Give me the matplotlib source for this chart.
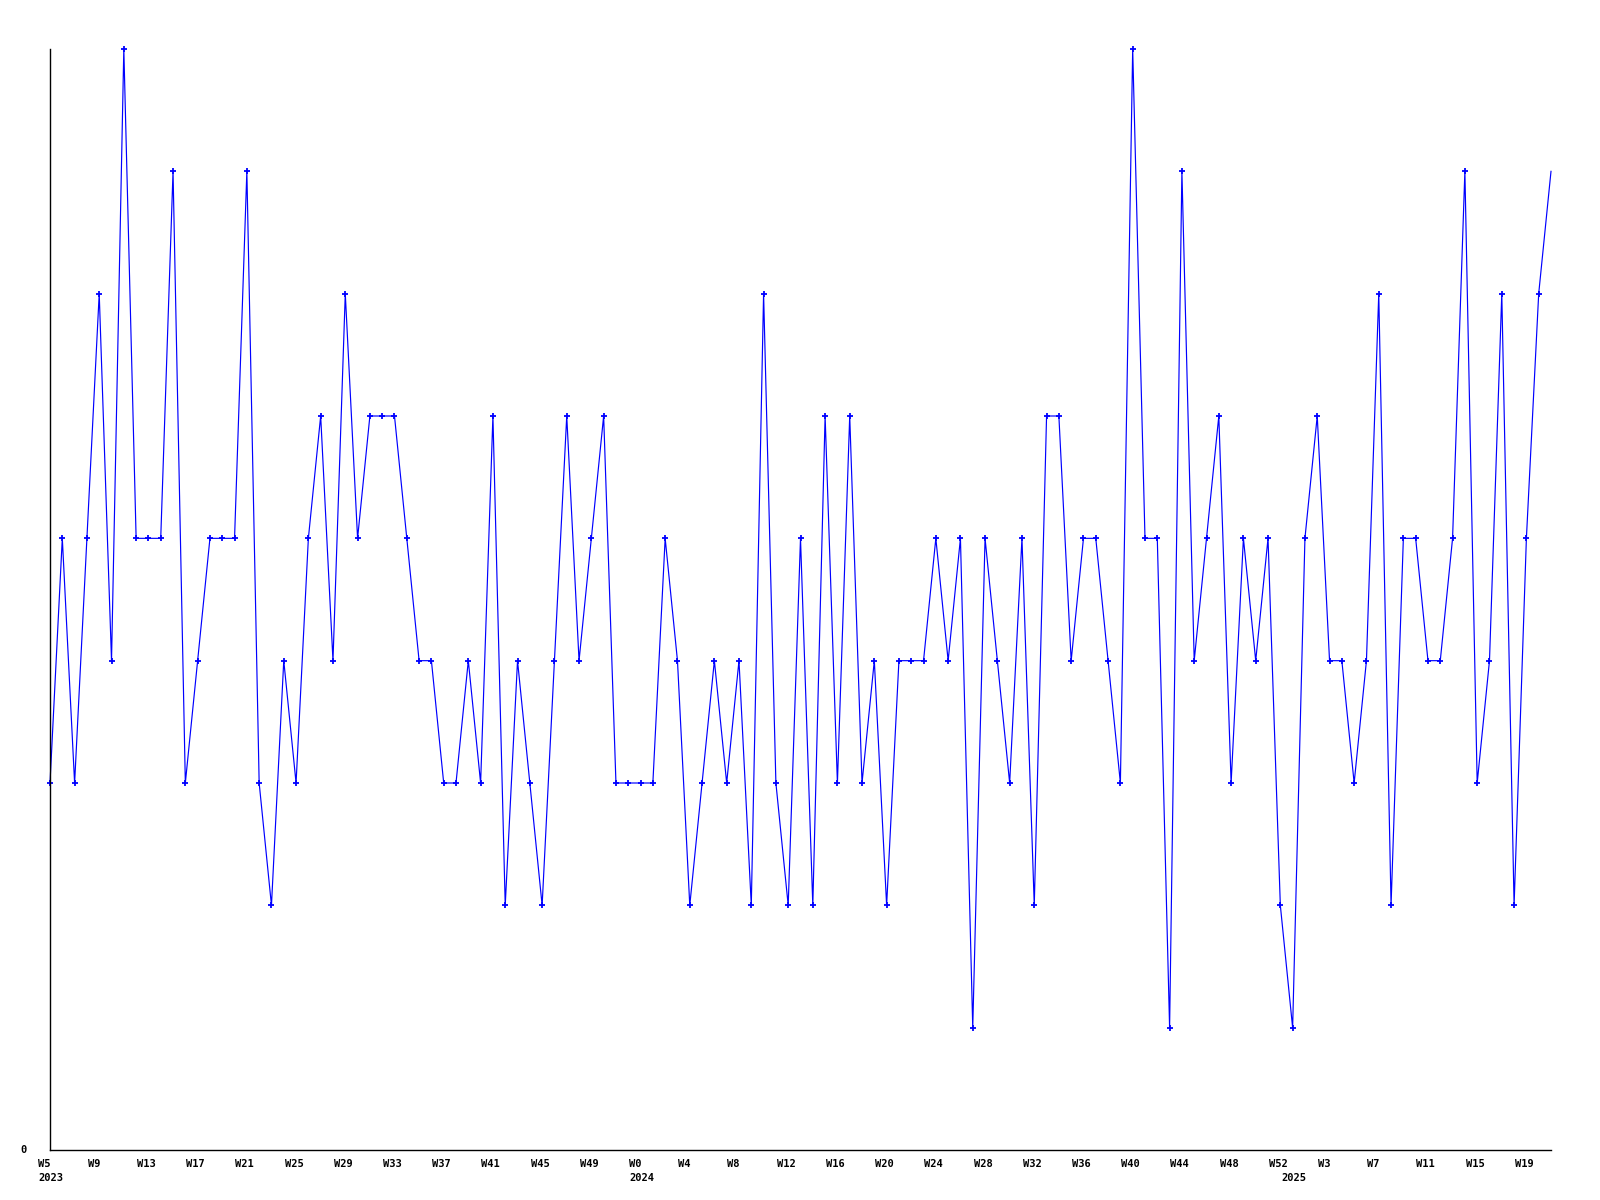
import matplotlib
matplotlib.use("Agg")
import matplotlib.pyplot as plt

# --- data ---------------------------------------------------------------
weeks_2023 = list(range(5, 53))      # W5 .. W52
weeks_2024 = list(range(0, 53))      # W0 .. W52
weeks_2025 = list(range(0, 22))      # W0 .. W21
years = ["2023", "2024", "2025"]

values = [
    3, 5, 3, 5, 7, 4, 9, 5, 5, 5, 8, 3, 4, 5, 5, 5, 8, 3, 2, 4,
    3, 5, 6, 4, 7, 5, 6, 6, 6, 5, 4, 4, 3, 3, 4, 3, 6, 2, 4, 3,
    2, 4, 6, 4, 5, 6, 3, 3,
    3, 3, 5, 4, 2, 3, 4, 3, 4, 2, 7, 3, 2, 5, 2, 6, 3, 6, 3, 4,
    2, 4, 4, 4, 5, 4, 5, 1, 5, 4, 3, 5, 2, 6, 6, 4, 5, 5, 4, 3,
    9, 5, 5, 1, 8, 4, 5, 6, 3, 5, 4, 5, 2,
    1, 5, 6, 4, 4, 3, 4, 7, 2, 5, 5, 4, 4, 5, 8, 3, 4, 7, 2, 5,
    7, 8,
]

week_labels = ["W%d" % w for w in weeks_2023 + weeks_2024 + weeks_2025]
year_starts = [0, len(weeks_2023), len(weeks_2023) + len(weeks_2024)]
x = list(range(len(values)))

# --- figure -------------------------------------------------------------
fig = plt.figure(figsize=(16, 12), dpi=100)
fig.patch.set_facecolor("white")
ax = fig.add_axes([50 / 1600, 1 - 1150 / 1200, 1501 / 1600, 1101 / 1200])

ax.plot(x, values, color="#0000ff", linewidth=0.85,
        marker="+", markersize=4.5, markeredgewidth=1.3,
        markevery=list(range(len(values) - 1)), clip_on=False)

ax.set_xlim(0, len(values) - 1)
ax.set_ylim(0, 9)

for s in ("top", "right"):
    ax.spines[s].set_visible(False)
for s in ("left", "bottom"):
    ax.spines[s].set_color("black")
    ax.spines[s].set_linewidth(1.0)

ax.set_xticks([])
ax.set_yticks([])

font = dict(family="DejaVu Sans Mono", weight="bold", size=7.5, color="black")

for i in range(0, len(values), 4):
    ax.annotate(week_labels[i], xy=(i, 0), xycoords=("data", "axes fraction"),
                xytext=(-8.3, -6.3), textcoords="offset points",
                ha="left", va="top", **font)

for yr, i in zip(years, year_starts):
    ax.annotate(yr, xy=(i, 0), xycoords=("data", "axes fraction"),
                xytext=(-8.3, -16.5), textcoords="offset points",
                ha="left", va="top", **font)

ax.annotate("0", xy=(0, 0), xycoords="axes fraction",
            xytext=(-17, 0), textcoords="offset points",
            ha="right", va="center", **font)

fig.savefig("out.png", dpi=100, facecolor="white")
